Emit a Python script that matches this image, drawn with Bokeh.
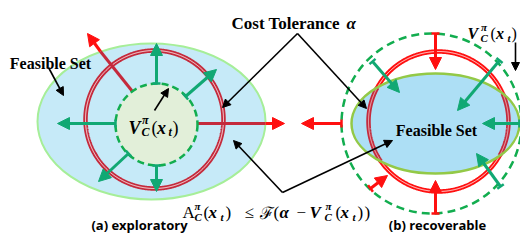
import numpy as np
from bokeh.plotting import figure
from bokeh.models import Range1d, Arrow, NormalHead, TeeHead, Label, ColumnDataSource
from bokeh.embed import file_html
from bokeh.resources import INLINE

# ---------------- diagram data (picture-pixel coordinates) ----------------
# ellipses: cx, cy, width, height
feas_L = [151, 121, 228, 156]
feas_R = [435, 123, 168, 100]
# circles: cx, cy, r
red_L = [154, 119, 69]
value_L = [156, 124, 41]
red_R = [438, 121, 70]
value_R = [431, 123, 90]

# green arrows (tail x, tail y, tip x, tip y)
green_x0 = [156, 185, 115, 128, 156, 372, 499, 519, 500]
green_y0 = [83, 96, 123, 153, 165, 61, 60, 123, 186]
green_x1 = [156, 216, 57, 98, 156, 399, 457, 482, 476]
green_y1 = [43, 69, 123, 181, 191, 92, 110, 123, 153]

# red arrows pointing into feasible set (right panel)
red_x0 = [435, 435, 370, 341]
red_y0 = [33, 213, 188, 123]
red_x1 = [435, 435, 387, 301]
red_y1 = [69, 180, 175, 123]

# left-panel red rays: inner part (dark, under the set) and outer arrow part
ray_in_x0 = [132, 197]
ray_in_y0 = [91, 123]
ray_in_x1 = [100, 265]
ray_in_y1 = [51, 123]
ray_out_x1 = [87, 284]
ray_out_y1 = [33, 123]

# black pointer arrows
blk_x0 = [297, 297, 282, 282, 48, 154, 515]
blk_y0 = [33, 33, 192, 192, 67, 110, 42]
blk_x1 = [222, 366, 233, 392, 63, 168, 515]
blk_y1 = [107, 108, 140, 140, 95, 88, 70]

# text
title_text = ["Cost Tolerance", "α"]
caption_a = "(a) exploratory"
caption_b = "(b) recoverable"
feasible_text = "Feasible Set"

# formula pieces: text, left x, level (M main / P sup / S sub), style
formula = [
    ("A", 182, "M", "normal"), ("π", 194, "P", "bold italic"), ("C", 194, "S", "bold italic"),
    ("(", 203, "M", "normal"), ("x", 208, "M", "bold italic"), ("t", 220, "S", "bold italic"),
    (")", 225, "M", "normal"), ("≤", 244, "M", "normal"), ("ℱ", 259, "M", "normal"),
    ("(", 273, "M", "normal"), ("α", 279, "M", "bold italic"), ("−", 296, "M", "normal"),
    ("V", 309, "M", "bold italic"), ("π", 325, "P", "bold italic"), ("C", 324, "S", "bold italic"),
    ("(", 335, "M", "normal"), ("x", 340, "M", "bold italic"), ("t", 352, "S", "bold italic"),
    (")", 357, "M", "normal"), (")", 364, "M", "normal"),
]
# V_C^pi(x_t) labels: pieces relative to start x
vlabel = [("V", 0, "M", "bold italic"), ("π", 13.5, "P", "bold italic"), ("C", 13, "S", "bold italic"),
          ("(", 23, "M", "normal"), ("x", 28.5, "M", "bold italic"), ("t", 40, "S", "bold italic"),
          (")", 44, "M", "normal")]

# ---------------- colours ----------------
BLUE_L = "#c6eaf8"
EDGE_L = "#a6ee98"
INNER = "#e2efd9"
DASH_G = "#12ad4f"
ARR_G = "#11a873"
CRIMSON = "#c42a3c"
RED = "#ff1010"
BLUE_R = "#addff5"
EDGE_R = "#93c947"

p = figure(width=520, height=234, x_range=Range1d(0, 520), y_range=Range1d(234, 0),
           output_backend="svg", toolbar_location=None, min_border=0,
           x_axis_location=None, y_axis_location=None)
p.grid.visible = False
p.outline_line_color = None
p.background_fill_color = "white"
p.border_fill_color = "white"


def ring(cx, cy, r, color, mask=None):
    th = np.linspace(0, 2 * np.pi, 721)
    x = cx + r * np.cos(th)
    y = cy + r * np.sin(th)
    if mask is None:
        p.line(x, y, line_color=color, line_width=4.5)
        p.line(x, y, line_color="white", line_width=1, line_alpha=0.85)
        return
    keep = mask(x, y)
    xs, ys, cur_x, cur_y = [], [], [], []
    for xi, yi, k in zip(x, y, keep):
        if k:
            cur_x.append(xi); cur_y.append(yi)
        elif cur_x:
            xs.append(cur_x); ys.append(cur_y); cur_x, cur_y = [], []
    if cur_x:
        xs.append(cur_x); ys.append(cur_y)
    p.multi_line(xs, ys, line_color=color, line_width=4.5)
    p.multi_line(xs, ys, line_color="white", line_width=1, line_alpha=0.6)


# ---------------- left panel ----------------
p.ellipse(x=[feas_L[0]], y=[feas_L[1]], width=[feas_L[2]], height=[feas_L[3]],
          fill_color=BLUE_L, line_color=EDGE_L, line_width=2)
ring(red_L[0], red_L[1], red_L[2], CRIMSON)
p.segment(x0=ray_in_x0, y0=ray_in_y0, x1=ray_in_x1, y1=ray_in_y1, line_color=CRIMSON, line_width=3)
p.circle(x=[value_L[0]], y=[value_L[1]], radius=value_L[2], fill_color=INNER,
         line_color=DASH_G, line_width=2.5, line_dash="7 4")
p.add_layout(Arrow(source=ColumnDataSource(dict(x0=ray_in_x1, y0=ray_in_y1, x1=ray_out_x1, y1=ray_out_y1)),
                   x_start="x0", y_start="y0", x_end="x1", y_end="y1",
                   line_color=RED, line_width=3,
                   end=NormalHead(size=12, fill_color=RED, line_color=RED)))

# ---------------- right panel ----------------
p.circle(x=[value_R[0]], y=[value_R[1]], radius=value_R[2], fill_color=None,
         line_color=DASH_G, line_width=2.5, line_dash="8 5")
ring(red_R[0], red_R[1], red_R[2], RED)
p.ellipse(x=[feas_R[0]], y=[feas_R[1]], width=[feas_R[2]], height=[feas_R[3]],
          fill_color=BLUE_R, line_color=None)
ring(red_R[0], red_R[1], red_R[2], CRIMSON,
     mask=lambda x, y: ((x - feas_R[0]) / (feas_R[2] / 2)) ** 2 + ((y - feas_R[1]) / (feas_R[3] / 2)) ** 2 < 1)
p.ellipse(x=[feas_R[0]], y=[feas_R[1]], width=[feas_R[2]], height=[feas_R[3]],
          fill_color=None, line_color=EDGE_R, line_width=2.5)

# ---------------- arrows ----------------
p.add_layout(Arrow(source=ColumnDataSource(dict(x0=green_x0, y0=green_y0, x1=green_x1, y1=green_y1)),
                   x_start="x0", y_start="y0", x_end="x1", y_end="y1",
                   line_color=ARR_G, line_width=3,
                   start=TeeHead(size=8, line_color=ARR_G, line_width=2.5),
                   end=NormalHead(size=12, fill_color=ARR_G, line_color=ARR_G)))
p.add_layout(Arrow(source=ColumnDataSource(dict(x0=red_x0, y0=red_y0, x1=red_x1, y1=red_y1)),
                   x_start="x0", y_start="y0", x_end="x1", y_end="y1",
                   line_color=RED, line_width=3,
                   start=TeeHead(size=8, line_color=RED, line_width=2.5),
                   end=NormalHead(size=12, fill_color=RED, line_color=RED)))
p.add_layout(Arrow(source=ColumnDataSource(dict(x0=blk_x0, y0=blk_y0, x1=blk_x1, y1=blk_y1)),
                   x_start="x0", y_start="y0", x_end="x1", y_end="y1",
                   line_color="black", line_width=1.6,
                   end=NormalHead(size=8, fill_color="black", line_color="black")))

# ---------------- text ----------------
SERIF = "Liberation Serif"


def add_text(t, x, y, size, style="bold", font=SERIF, align="left"):
    p.add_layout(Label(x=x, y=y, text=t, text_font=font, text_font_size=f"{size}px",
                       text_font_style=style, text_baseline="alphabetic", text_align=align,
                       text_color="black"))


def add_math(pieces, x0, base, size, small):
    lv = {"M": 0, "P": -round(size * 0.42), "S": round(size * 0.25)}
    for t, dx, level, style in pieces:
        font = "DejaVu Serif" if t == "ℱ" else SERIF
        add_text(t, x0 + dx, base + lv[level], size if level == "M" else small, style, font)


add_text(title_text[0], 231, 23, 17)
add_text(title_text[1], 346, 23, 17, "bold italic")
add_text(feasible_text, 50, 63, 16, align="center")
add_text(feasible_text, 436, 130, 16, align="center")
add_text(caption_a, 139, 224, 13, "bold", "Open Sans", "center")
add_text(caption_b, 437, 224, 13, "bold", "Open Sans", "center")
add_math(formula, 0, 212, 17, 11)
add_math(vlabel, 128, 127, 18, 12)
add_math(vlabel, 467, 33, 16, 11)

open("out.html", "w").write(file_html(p, INLINE))
